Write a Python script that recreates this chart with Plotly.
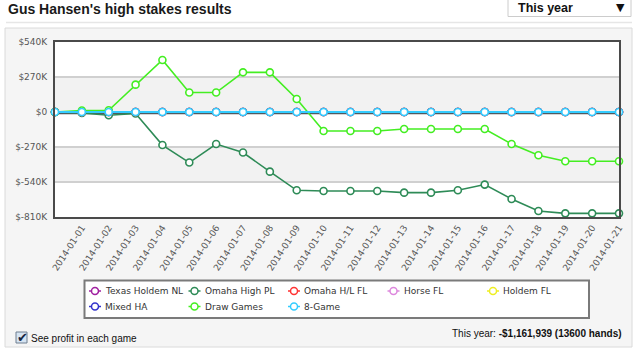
import plotly.graph_objects as go

# ---------------- data ----------------
x_index = list(range(22))
date_labels = ["2014-01-%02d" % d for d in range(1, 22)]
tick_positions = list(range(1, 22))

series_names = ["Texas Holdem NL", "Omaha High PL", "Omaha H/L FL", "Horse FL",
                "Holdem FL", "Mixed HA", "Draw Games", "8-Game"]
series_colors = ["#a020a0", "#2e8b57", "#ff3333", "#dd88dd",
                 "#eeee22", "#3333cc", "#44ee22", "#33ccff"]

texas_holdem_nl = [0] * 22
omaha_high_pl = [0, -8000, -25000, -12000, -255000, -390000, -247000, -313000,
                 -460000, -604000, -609000, -609000, -609000, -622000, -622000,
                 -604000, -560000, -671000, -764000, -782000, -782000, -782000]
omaha_hl_fl = [0] * 22
horse_fl = [0] * 22
holdem_fl = [0] * 22
mixed_ha = [0] * 22
draw_games = [0, 11000, 13000, 211000, 401000, 150000, 150000, 306000, 306000,
              100000, -147000, -147000, -147000, -131000, -131000, -131000,
              -131000, -247000, -334000, -380000, -380000, -380000]
eight_game = [0] * 22

series_values = [texas_holdem_nl, omaha_high_pl, omaha_hl_fl, horse_fl,
                 holdem_fl, mixed_ha, draw_games, eight_game]

y_tick_vals = [540000, 270000, 0, -270000, -540000, -810000]
y_tick_text = ["$540K", "$270K", "$0", "$-270K", "$-540K", "$-810K"]

title_text = "Gus Hansen's high stakes results"
total_text = "This year: <b>-$1,161,939 (13600 hands)</b>"

# ---------------- layout helpers ----------------
W, H = 638, 350
L, R, T, B = 55, 19, 42, 133
PW, PH = W - L - R, H - T - B


def px(x):
    return (x - L) / PW


def py(y):
    return (H - B - y) / PH


fig = go.Figure()

for name, color, vals in zip(series_names, series_colors, series_values):
    lw = 2.0 if name == "8-Game" else 1.6
    fig.add_trace(go.Scatter(
        x=x_index, y=vals, name=name, mode="lines+markers",
        line=dict(color=color, width=lw),
        marker=dict(symbol="circle", size=7, color="white",
                    line=dict(color=color, width=1.6)),
        cliponaxis=False, hoverinfo="skip", showlegend=False,
    ))

BAND = "#f2f2f2"
shapes = [
    # panel
    dict(type="rect", xref="paper", yref="paper", x0=px(5), x1=px(632),
         y0=py(347), y1=py(28), fillcolor="#f5f5f5",
         line=dict(color="#dadada", width=1), layer="below"),
    # plot area
    dict(type="rect", xref="paper", yref="paper", x0=0, x1=1, y0=0, y1=1,
         fillcolor="white", line=dict(width=0), layer="below"),
    # bands
    dict(type="rect", xref="paper", yref="y", x0=0, x1=1, y0=0, y1=270000,
         fillcolor=BAND, line=dict(width=0), layer="below"),
    dict(type="rect", xref="paper", yref="y", x0=0, x1=1, y0=-540000, y1=-270000,
         fillcolor=BAND, line=dict(width=0), layer="below"),
    # shadow under the zero series
    dict(type="line", xref="paper", yref="y", x0=0, x1=1, y0=-9000, y1=-9000,
         line=dict(color="#505a60", width=2), layer="below"),
    # separator
    dict(type="line", xref="paper", yref="paper", x0=px(6), x1=px(632),
         y0=py(22.5), y1=py(22.5), line=dict(color="#e6e6e6", width=1.5)),
    # dropdown
    dict(type="rect", xref="paper", yref="paper", x0=px(508), x1=px(631),
         y0=py(16.5), y1=py(-2), fillcolor="white",
         line=dict(color="#cccccc", width=1)),
    # checkbox
    dict(type="rect", xref="paper", yref="paper", x0=px(16), x1=px(27),
         y0=py(343), y1=py(332), fillcolor="#d6e4f2",
         line=dict(color="#6f7f90", width=1)),
    # legend box
    dict(type="rect", xref="paper", yref="paper", x0=px(84.5), x1=px(589),
         y0=py(318), y1=py(280.5), fillcolor="white",
         line=dict(color="#7a7a7a", width=2)),
]

annotations = [
    dict(text="<b>" + title_text + "</b>", x=px(6), y=py(9), xref="paper", yref="paper",
         xanchor="left", yanchor="middle", showarrow=False,
         font=dict(family="Liberation Sans", size=14, color="#1a1a1a")),
    dict(text="<b>This year</b>", x=px(516), y=py(7.5), xref="paper", yref="paper",
         xanchor="left", yanchor="middle", showarrow=False,
         font=dict(family="Liberation Sans", size=12.5, color="#111")),
    dict(text="▼", x=px(620), y=py(7), xref="paper", yref="paper",
         xanchor="center", yanchor="middle", showarrow=False,
         font=dict(family="DejaVu Sans", size=11, color="#111")),
    dict(text="✔", x=px(22), y=py(337), xref="paper", yref="paper",
         xanchor="center", yanchor="middle", showarrow=False,
         font=dict(family="DejaVu Sans", size=13, color="#16243f")),
    dict(text="See profit in each game", x=px(29), y=py(338.5), xref="paper", yref="paper",
         xanchor="left", yanchor="middle", showarrow=False,
         font=dict(family="Liberation Sans", size=10, color="#111")),
    dict(text=total_text, x=px(624), y=py(333), xref="paper", yref="paper",
         xanchor="right", yanchor="middle", showarrow=False,
         font=dict(family="Liberation Sans", size=10, color="#111")),
]

# compact legend, drawn by hand to match the original
for i, (name, color) in enumerate(zip(series_names, series_colors)):
    cx = 95 + (i % 5) * 99.5
    cy = 291 + (i // 5) * 15.5
    shapes.append(dict(type="line", xref="paper", yref="paper",
                       x0=px(cx - 6), x1=px(cx + 6), y0=py(cy), y1=py(cy),
                       line=dict(color=color, width=1.5)))
    shapes.append(dict(type="circle", xref="paper", yref="paper",
                       x0=px(cx - 3.5), x1=px(cx + 3.5), y0=py(cy + 3.5), y1=py(cy - 3.5),
                       fillcolor="white", line=dict(color=color, width=1.5)))
    annotations.append(dict(text=name, x=px(cx + 8), y=py(cy), xref="paper", yref="paper",
                            xanchor="left", yanchor="middle", showarrow=False,
                            font=dict(family="DejaVu Sans", size=9, color="#333")))

fig.update_layout(
    width=W, height=H, autosize=False,
    margin=dict(l=L, r=R, t=T, b=B, pad=0),
    paper_bgcolor="white", plot_bgcolor="white",
    shapes=shapes, annotations=annotations,
    showlegend=False,
    xaxis=dict(range=[0, 21], tickvals=tick_positions, ticktext=date_labels,
               tickangle=-57, showgrid=False, zeroline=False,
               showline=True, linecolor="#4a4a4a", linewidth=2, mirror=True,
               ticks="", tickfont=dict(family="DejaVu Sans", size=9, color="#555"),
               fixedrange=True),
    yaxis=dict(range=[-810000, 540000], tickvals=y_tick_vals, ticktext=y_tick_text,
               showgrid=True, gridcolor="#d0d0d0", gridwidth=1.5, zeroline=False,
               showline=True, linecolor="#4a4a4a", linewidth=2, mirror=True,
               ticks="", ticklabelstandoff=4,
               tickfont=dict(family="DejaVu Sans", size=9, color="#555"),
               fixedrange=True),
)

fig.write_html("out.html")
